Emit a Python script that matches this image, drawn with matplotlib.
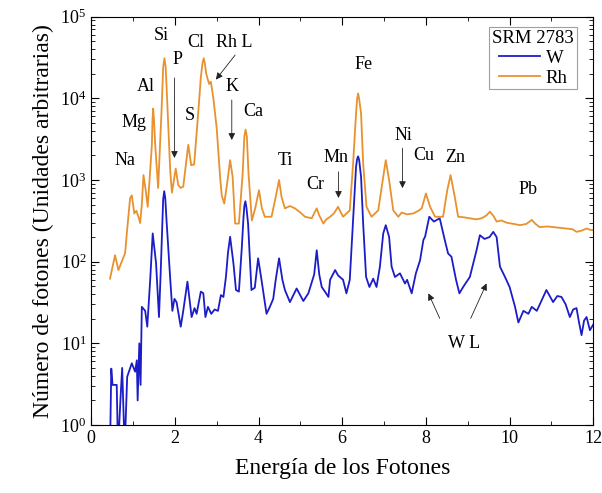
import numpy as np
import matplotlib.pyplot as plt
from matplotlib.ticker import LogLocator, MultipleLocator, NullFormatter

plt.rcParams['font.family'] = 'Liberation Serif'
plt.rcParams['mathtext.fontset'] = 'custom'
plt.rcParams['mathtext.rm'] = 'Liberation Serif'

# Rh tube spectrum (energy keV, counts)
rh_e = [0.45, 0.57, 0.65, 0.81, 0.86, 0.93, 0.97, 1.03, 1.08, 1.14, 1.17, 1.21, 1.25, 1.31,
        1.35, 1.40, 1.45, 1.465, 1.48, 1.50, 1.53, 1.60, 1.68, 1.72, 1.75, 1.78, 1.80, 1.89,
        1.93, 2.02, 2.08, 2.14, 2.20, 2.26, 2.32, 2.39, 2.46, 2.56, 2.62, 2.66, 2.69, 2.72,
        2.75, 2.78, 2.82, 2.86, 2.92, 3.00, 3.08, 3.12, 3.18, 3.26, 3.32, 3.38, 3.44, 3.53,
        3.62, 3.66, 3.69, 3.72, 3.76, 3.84, 3.92, 4.01, 4.08, 4.15, 4.31, 4.41, 4.49, 4.55,
        4.63, 4.75, 4.87, 5.00, 5.11, 5.27, 5.33, 5.39, 5.45, 5.55, 5.62, 5.71, 5.80, 5.90,
        6.02, 6.18, 6.26, 6.33, 6.355, 6.38, 6.405, 6.45, 6.50, 6.58, 6.70, 6.86, 6.97, 7.04,
        7.12, 7.22, 7.34, 7.42, 7.55, 7.70, 7.82, 7.90, 8.00, 8.10, 8.22, 8.41, 8.51, 8.59,
        8.69, 8.77, 8.90, 9.05, 9.20, 9.33, 9.45, 9.53, 9.62, 9.69, 9.80, 9.93, 10.10, 10.25,
        10.40, 10.53, 10.62, 10.72, 10.90, 11.04, 11.20, 11.36, 11.50, 11.60, 11.72, 11.84,
        11.93, 12.0]
rh_c = [62, 120, 79, 127, 250, 600, 650, 390, 420, 340, 297, 500, 1150, 700,
        470, 1100, 2700, 5500, 7500, 5500, 2700, 800, 6840, 24000, 31000, 24000, 14500, 1260,
        700, 1380, 870, 800, 830, 1500, 2700, 1520, 1550, 6840, 18000, 27000, 31000, 26000,
        20000, 17500, 15000, 16000, 10000, 4300, 1100, 650, 515, 1000, 1750, 1100, 293, 293,
        1200, 3400, 4150, 3400, 1200, 320, 450, 750, 450, 355, 355, 620, 1000, 620,
        450, 480, 450, 400, 355, 340, 390, 450, 370, 293, 330, 355, 390, 470,
        355, 425, 1600, 6500, 9800, 11500, 9800, 6500, 1600, 470, 355, 425, 1000, 1750,
        1000, 425, 355, 400, 380, 390, 420, 450, 685, 470, 355, 355, 750, 1150,
        620, 355, 350, 340, 330, 340, 370, 410, 360, 310, 320, 300, 290, 280,
        290, 325, 290, 265, 270, 265, 260, 255, 250, 232, 240, 255,
        245, 243]

# W tube spectrum
w_e = [0.45, 0.48, 0.51, 0.61, 0.64, 0.70, 0.74, 0.80, 0.86, 0.97, 1.05, 1.09, 1.11, 1.15,
       1.18, 1.21, 1.29, 1.34, 1.41, 1.47, 1.55, 1.62, 1.66, 1.70, 1.72, 1.745, 1.77, 1.80,
       1.89, 1.94, 1.99, 2.04, 2.14, 2.20, 2.30, 2.40, 2.47, 2.52, 2.62, 2.68, 2.73, 2.79,
       2.87, 2.95, 3.03, 3.10, 3.16, 3.22, 3.27, 3.32, 3.40, 3.46, 3.53, 3.60, 3.64, 3.66,
       3.685, 3.71, 3.75, 3.83, 3.91, 3.99, 4.07, 4.19, 4.27, 4.35, 4.41, 4.49, 4.57, 4.63,
       4.75, 4.91, 5.07, 5.19, 5.33, 5.39, 5.45, 5.51, 5.60, 5.67, 5.71, 5.83, 5.90, 6.02,
       6.10, 6.18, 6.26, 6.33, 6.355, 6.38, 6.405, 6.45, 6.50, 6.57, 6.65, 6.74, 6.82, 6.90,
       6.98, 7.04, 7.12, 7.18, 7.26, 7.38, 7.50, 7.55, 7.66, 7.76, 7.86, 7.94, 7.98, 8.08,
       8.19, 8.33, 8.45, 8.53, 8.61, 8.72, 8.80, 8.89, 9.05, 9.13, 9.21, 9.29, 9.40, 9.52,
       9.61, 9.69, 9.77, 9.89, 10.00, 10.13, 10.21, 10.33, 10.45, 10.53, 10.65, 10.78,
       10.88, 11.04, 11.14, 11.24, 11.34, 11.44, 11.52, 11.60, 11.66, 11.72, 11.78, 11.84,
       11.92, 12.0]
w_c = [0.5, 4.9, 3.1, 3.1, 0.5, 2.1, 5.0, 0.5, 3.9, 5.7, 4.5, 6.2, 2.0, 10,
       3.1, 28, 25, 16, 60, 222, 96, 21, 72, 300, 580, 730, 600, 323,
       60, 25, 35, 32, 16, 25, 57, 21, 27, 23, 43, 41, 21, 28,
       23, 26, 25, 39, 37, 65, 130, 202, 95, 45, 43, 150, 350, 480,
       550, 460, 290, 45, 48, 110, 60, 23, 28, 35, 60, 110, 60, 45,
       32, 47, 33, 41, 70, 138, 70, 49, 42, 37, 60, 79, 68, 60,
       41, 60, 323, 1450, 1800, 1950, 1750, 1090, 293, 65, 49, 62, 49, 87,
       222, 280, 202, 87, 65, 72, 54, 60, 41, 72, 104, 185, 202, 355,
       310, 340, 185, 126, 115, 60, 41, 49, 65, 95, 138, 211, 190, 200,
       232, 200, 87, 65, 49, 28, 18, 25, 23, 28, 25, 35,
       45, 32, 38, 37, 30, 21, 26, 27, 18, 12.6, 19, 21,
       14.5, 17]

# element labels (text, energy, counts)
labels = [("Si", 1.67, 10**4.77), ("Cl", 2.50, 10**4.69), ("Rh L", 3.42, 10**4.68),
          ("Al", 1.31, 10**4.15), ("P", 2.07, 10**4.47), ("Mg", 1.03, 10**3.71),
          ("S", 2.36, 10**3.79), ("K", 3.37, 10**4.14), ("Ca", 3.87, 10**3.84),
          ("Na", 0.81, 10**3.24), ("Ti", 4.63, 10**3.24), ("Cr", 5.35, 10**2.94),
          ("Mn", 5.85, 10**3.28), ("Fe", 6.50, 10**4.42), ("Ni", 7.45, 10**3.55),
          ("Cu", 7.95, 10**3.30), ("Zn", 8.69, 10**3.27), ("Pb", 10.44, 10**2.88),
          ("W L", 8.90, 10**1.0)]

# arrows (start -> tip)
arrows = [((1.99, 10**4.25), (1.99, 10**3.27)),
          ((3.44, 10**4.53), (2.98, 10**4.23)),
          ((3.36, 10**3.98), (3.36, 10**3.49)),
          ((5.91, 10**3.10), (5.91, 10**2.78)),
          ((7.44, 10**3.39), (7.44, 10**2.90)),
          ((8.33, 10**1.306), (8.06, 10**1.612)),
          ((9.07, 10**1.306), (9.45, 10**1.734))]

fig = plt.figure(figsize=(6.02, 4.93), dpi=100)
ax = fig.add_axes([0.1515, 0.1379, 0.834, 0.8282])

ax.plot(w_e, w_c, color="#1c1cc8", lw=1.3, label="W")
ax.plot(rh_e, rh_c, color="#e8922e", lw=1.3, label="Rh")

ax.set_yscale("log")
ax.set_xlim(0, 12)
ax.set_ylim(1, 1e5)
ax.xaxis.set_major_locator(MultipleLocator(2))
ax.xaxis.set_minor_locator(MultipleLocator(1))
ax.yaxis.set_major_locator(LogLocator(base=10, numticks=10))
ax.yaxis.set_minor_locator(LogLocator(base=10, subs=np.arange(2, 10), numticks=20))
ax.yaxis.set_minor_formatter(NullFormatter())
ax.tick_params(which="both", direction="in", top=True, right=True, labelsize=13)
ax.tick_params(which="major", length=6)
ax.tick_params(which="minor", length=3)

ax.set_xlabel("Energía de los Fotones", fontsize=17, labelpad=8)
ax.set_ylabel("Número de fotones (Unidades arbitrarias)", fontsize=17)

for txt, x, y in labels:
    ax.text(x, y, txt, fontsize=13, ha="center", va="center")

for (x0, y0), (x1, y1) in arrows:
    ax.annotate("", xy=(x1, y1), xytext=(x0, y0),
                arrowprops=dict(arrowstyle="-|>", color="#222222", lw=0.6,
                                mutation_scale=10, shrinkA=0, shrinkB=0))

leg = ax.legend(loc="upper right", title="SRM 2783", fontsize=13.5, title_fontsize=13.5,
                handlelength=2.2, frameon=True, fancybox=False, edgecolor="#888888",
                borderpad=0.15, labelspacing=0.15, handletextpad=0.3, borderaxespad=0,
                bbox_to_anchor=(0.967, 0.975))
leg.get_frame().set_linewidth(0.8)

fig.savefig("out.png", dpi=100)
